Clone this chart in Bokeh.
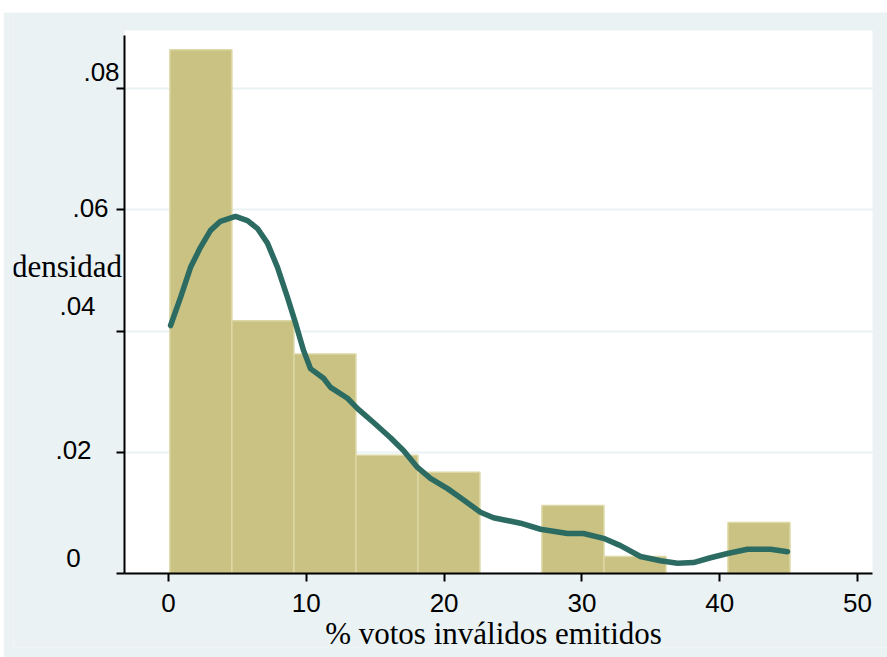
from bokeh.plotting import figure
from bokeh.models import Range1d, FixedTicker, BoxAnnotation
from bokeh.core.properties import value
from bokeh.embed import file_html
from bokeh.resources import INLINE

# ---------------- data ----------------
bin_left = [0.1, 4.6, 9.1, 13.6, 18.1, 22.6, 27.1, 31.6, 36.1, 40.6]
bin_width = 4.5
density = [0.0864, 0.0417, 0.0362, 0.0195, 0.0167, 0.0, 0.0112, 0.0028, 0.0, 0.0084]

kde_x = [0.15, 0.87, 1.60, 2.32, 3.05, 3.77, 4.86, 5.73, 6.46, 7.18, 7.91, 8.64,
         9.22, 9.80, 10.30, 11.25, 11.76, 12.99, 13.72, 14.88, 16.11, 17.05, 18.07,
         19.01, 20.25, 21.19, 22.64, 23.58, 25.54, 27.00, 28.96, 30.12, 31.57, 32.80,
         34.25, 35.70, 36.94, 38.10, 39.33, 40.57, 42.02, 43.69, 44.92]
kde_y = [0.0409, 0.0455, 0.0505, 0.0538, 0.0566, 0.0581, 0.0589, 0.0582, 0.0569,
         0.0545, 0.0505, 0.0455, 0.0413, 0.0368, 0.0338, 0.0322, 0.0307, 0.0289,
         0.0272, 0.0249, 0.0224, 0.0203, 0.0175, 0.0157, 0.0140, 0.0125, 0.0101,
         0.0092, 0.0083, 0.0073, 0.0066, 0.0066, 0.0058, 0.0046, 0.0028, 0.0021,
         0.0017, 0.0018, 0.0026, 0.0033, 0.0040, 0.0040, 0.0036]

x_ticks = [0, 10, 20, 30, 40, 50]
x_tick_labels = ["0", "10", "20", "30", "40", "50"]
y_ticks = [0, 0.02, 0.04, 0.06, 0.08]
y_tick_labels = ["0", ".02", ".04", ".06", ".08"]
x_title = "% votos inválidos emitidos"
y_title = "densidad"

# ---------------- layout / style ----------------
BG = "#EAF2F3"
BAR = "#C9C283"
BAR_EDGE = "#DCD7A4"
LINE = "#2C6B62"
SERIF = value("Liberation Serif")
SANS = value("Liberation Sans")

# page geometry (pixels)
PX_X0, PX_PER_X = 168.0, 13.78        # page x of value 0, pixels per unit
PX_Y0, PX_PER_Y = 573.0, 6062.5       # page y of value 0, pixels per unit
FRAME_L, FRAME_R, FRAME_T, FRAME_B = 13, 887, 12, 647
PLOT_L, PLOT_R, PLOT_T = 124, 872, 30  # white plot region


def xd(px):
    return (px - PX_X0) / PX_PER_X


def yd(py):
    return (PX_Y0 - py) / PX_PER_Y


X0, X1 = xd(PLOT_L), xd(PLOT_R)
YTOP = yd(PLOT_T)

# per-label screen offsets of the y tick labels (from axis line, down positive)
y_label_dx = [-51, -51, -47, -34, -23]
y_label_dy = [-16, -2, -25, -2, -17]

p = figure(width=884, height=645, output_backend="svg", toolbar_location=None,
           x_range=Range1d(xd(FRAME_L), xd(FRAME_R)),
           y_range=Range1d(yd(FRAME_B), yd(FRAME_T)),
           min_border_left=10, min_border_right=0, min_border_top=0,
           min_border_bottom=10)
p.margin = (12, 0, 0, 3)
p.background_fill_color = BG
p.border_fill_color = BG
p.outline_line_color = None

# white plot region
p.add_layout(BoxAnnotation(left=X0, right=X1, bottom=0, top=YTOP,
                           fill_color="white", fill_alpha=1, line_color=None,
                           level="image"))

# grid
p.xgrid.grid_line_color = None
p.ygrid.ticker = FixedTicker(ticks=y_ticks)
p.ygrid.grid_line_color = BG
p.ygrid.grid_line_width = 2

# bars
lefts = [l for l, d in zip(bin_left, density) if d > 0]
rights = [l + bin_width for l, d in zip(bin_left, density) if d > 0]
tops = [d for d in density if d > 0]
p.quad(left=lefts, right=rights, top=tops, bottom=0,
       fill_color=BAR, line_color=BAR_EDGE, line_width=1.5)

# kernel density
p.line(kde_x, kde_y, line_color=LINE, line_width=5.5, line_join="round", line_cap="round")

# axes (placed at the plot region edges)
for ax in (p.xaxis[0], p.yaxis[0]):
    ax.axis_line_color = "black"
    ax.axis_line_width = 2
    ax.major_tick_line_color = "black"
    ax.major_tick_line_width = 2
    ax.major_tick_out = 8
    ax.major_tick_in = 0
    ax.minor_tick_line_color = None
    ax.major_label_text_font_size = "0px"
    ax.major_label_standoff = 0

p.xaxis.ticker = FixedTicker(ticks=x_ticks)
p.xaxis.major_label_overrides = {t: "" for t in x_ticks}
p.xaxis.fixed_location = 0
p.xaxis.bounds = (X0, X1)

p.yaxis.ticker = FixedTicker(ticks=y_ticks)
p.yaxis.major_label_overrides = {t: "" for t in y_ticks}
p.yaxis.fixed_location = X0
p.yaxis.bounds = (0, yd(35))

# tick labels
p.text(x=x_ticks, y=[0] * len(x_ticks), text=x_tick_labels, y_offset=[29] * len(x_ticks),
       text_font=SANS, text_font_size="26px", text_color="black",
       text_align="center", text_baseline="middle")
p.text(x=[X0] * len(y_ticks), y=y_ticks, text=y_tick_labels,
       x_offset=y_label_dx, y_offset=y_label_dy,
       text_font=SANS, text_font_size="26px", text_color="black",
       text_align="center", text_baseline="middle")

# titles
p.text(x=[(X0 + X1) / 2], y=[0], text=[x_title], x_offset=[-5], y_offset=[60],
       text_font=SERIF, text_font_size="31px", text_color="black",
       text_align="center", text_baseline="middle")
p.text(x=[X0], y=[0], text=[y_title], x_offset=[-57.5], y_offset=[-307],
       text_font=SERIF, text_font_size="31px", text_color="black",
       text_align="center", text_baseline="middle")

open("out.html", "w").write(file_html(p, INLINE))
